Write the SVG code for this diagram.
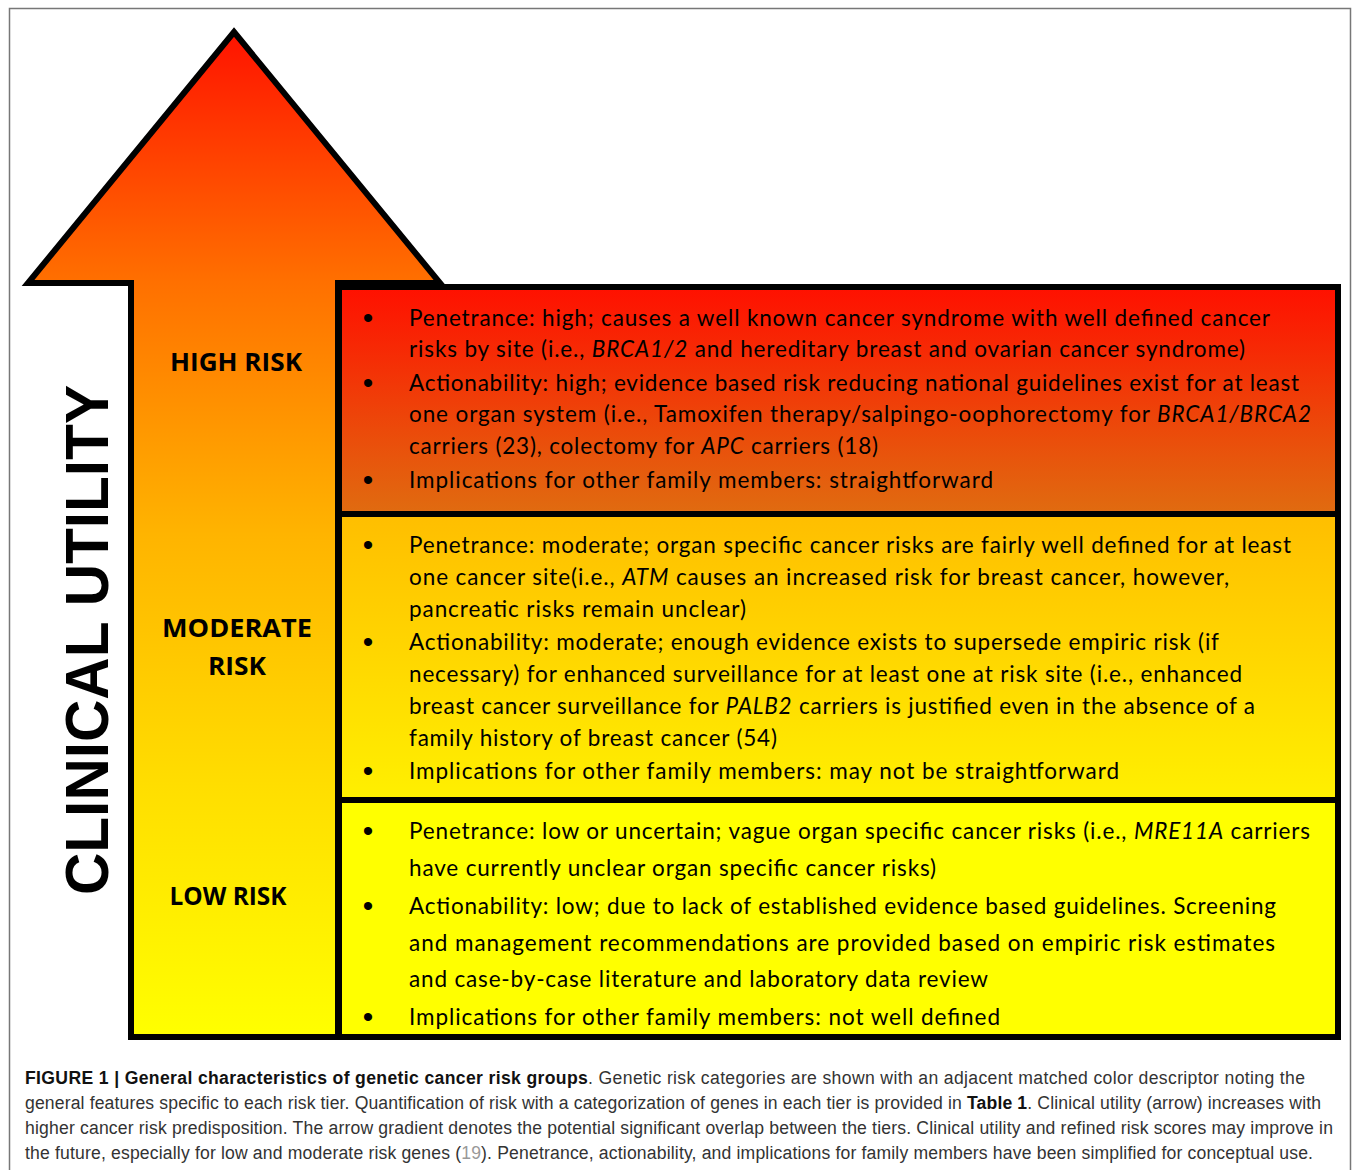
<svg xmlns="http://www.w3.org/2000/svg" width="1355" height="1170" viewBox="0 0 1355 1170">
<defs>
<linearGradient id="gArrow" gradientUnits="userSpaceOnUse" x1="0" y1="30" x2="0" y2="1038">
<stop offset="0" stop-color="#FF1200"/>
<stop offset="0.25" stop-color="#FF7000"/>
<stop offset="0.5" stop-color="#FFB400"/>
<stop offset="0.75" stop-color="#FFDE00"/>
<stop offset="1" stop-color="#FFFF00"/>
</linearGradient>
<linearGradient id="gHigh" x1="0" y1="0" x2="0" y2="1">
<stop offset="0" stop-color="#FF1000"/>
<stop offset="1" stop-color="#E06C10"/>
</linearGradient>
<linearGradient id="gMod" x1="0" y1="0" x2="0" y2="1">
<stop offset="0" stop-color="#FFBE00"/>
<stop offset="1" stop-color="#FFF000"/>
</linearGradient>
<style>
.box{stroke:#000;stroke-width:6;}
.t{font-family:Lato,"Open Sans","Liberation Sans",sans-serif;font-size:22.5px;fill:#000;}
.i{font-style:italic;}
.b{font-family:"Liberation Sans",Arial,sans-serif;font-size:30px;fill:#000;text-anchor:middle;}
.lab{font-family:"Open Sans",Lato,"Liberation Sans",sans-serif;font-weight:bold;font-size:25px;fill:#000;text-anchor:middle;}
.cap{font-family:"Liberation Sans",Arial,sans-serif;font-size:17.6px;fill:#333;}
.bold{font-weight:bold;fill:#111;}
</style>
</defs>
<rect x="9.5" y="8.5" width="1341" height="1175" fill="#fff" stroke="#777" stroke-width="1.5"/>
<g id="arrow">
<path d="M234,32 L440,283 L338,283 L338,1037 L131,1037 L131,283 L28,283 Z" fill="url(#gArrow)" stroke="#000" stroke-width="6" stroke-linejoin="miter"/>
<text transform="translate(108,640) rotate(-90)" text-anchor="middle" textLength="510" lengthAdjust="spacingAndGlyphs" style="font-family:'Liberation Sans',Arial,sans-serif;font-weight:bold;font-size:62px;fill:#000;">CLINICAL UTILITY</text>
</g>
<g id="label-high"><text class="lab" x="236" y="371" textLength="132" lengthAdjust="spacingAndGlyphs">HIGH RISK</text></g>
<g id="label-moderate"><text class="lab" x="237" y="637" textLength="150" lengthAdjust="spacingAndGlyphs">MODERATE</text><text class="lab" x="237" y="675" textLength="58" lengthAdjust="spacingAndGlyphs">RISK</text></g>
<g id="label-low"><text class="lab" x="228" y="905" textLength="117" lengthAdjust="spacingAndGlyphs">LOW RISK</text></g>
<g id="box-high">
<rect class="box" x="339" y="287" width="999" height="227" fill="url(#gHigh)"/>
<text class="b" x="368" y="328">•</text>
<text class="b" x="368" y="393">•</text>
<text class="b" x="368" y="490">•</text>
<text class="t" x="409" y="326" textLength="861">Penetrance: high; causes a well known cancer syndrome with well defined cancer</text>
<text class="t" x="409" y="357" textLength="836">risks by site (i.e., <tspan class="i">BRCA1/2</tspan> and hereditary breast and ovarian cancer syndrome)</text>
<text class="t" x="409" y="391" textLength="890">Actionability: high; evidence based risk reducing national guidelines exist for at least</text>
<text class="t" x="409" y="422" textLength="902">one organ system (i.e., Tamoxifen therapy/salpingo-oophorectomy for <tspan class="i">BRCA1/BRCA2</tspan></text>
<text class="t" x="409" y="454" textLength="469">carriers (23), colectomy for <tspan class="i">APC</tspan> carriers (18)</text>
<text class="t" x="409" y="488" textLength="584">Implications for other family members: straightforward</text>
</g>
<g id="box-moderate">
<rect class="box" x="339" y="514" width="999" height="286" fill="url(#gMod)"/>
<text class="b" x="368" y="555">•</text>
<text class="b" x="368" y="652">•</text>
<text class="b" x="368" y="781">•</text>
<text class="t" x="409" y="553" textLength="882">Penetrance: moderate; organ specific cancer risks are fairly well defined for at least</text>
<text class="t" x="409" y="585" textLength="820">one cancer site(i.e., <tspan class="i">ATM</tspan> causes an increased risk for breast cancer, however,</text>
<text class="t" x="409" y="617" textLength="337">pancreatic risks remain unclear)</text>
<text class="t" x="409" y="650" textLength="810">Actionability: moderate; enough evidence exists to supersede empiric risk (if</text>
<text class="t" x="409" y="682" textLength="833">necessary) for enhanced surveillance for at least one at risk site (i.e., enhanced</text>
<text class="t" x="409" y="714" textLength="846">breast cancer surveillance for <tspan class="i">PALB2</tspan> carriers is justified even in the absence of a</text>
<text class="t" x="409" y="746" textLength="368">family history of breast cancer (54)</text>
<text class="t" x="409" y="779" textLength="710">Implications for other family members: may not be straightforward</text>
</g>
<g id="box-low">
<rect class="box" x="339" y="800" width="999" height="237" fill="#FFFF00"/>
<text class="b" x="368" y="841">•</text>
<text class="b" x="368" y="916">•</text>
<text class="b" x="368" y="1027">•</text>
<text class="t" x="409" y="839" textLength="901">Penetrance: low or uncertain; vague organ specific cancer risks (i.e., <tspan class="i">MRE11A</tspan> carriers</text>
<text class="t" x="409" y="876" textLength="527">have currently unclear organ specific cancer risks)</text>
<text class="t" x="409" y="914" textLength="867">Actionability: low; due to lack of established evidence based guidelines. Screening</text>
<text class="t" x="409" y="951" textLength="866">and management recommendations are provided based on empiric risk estimates</text>
<text class="t" x="409" y="987" textLength="579">and case-by-case literature and laboratory data review</text>
<text class="t" x="409" y="1025" textLength="591">Implications for other family members: not well defined</text>
</g>
<g id="connectors"/>
<g id="caption">
<text class="cap" x="25" y="1084" textLength="1280"><tspan class="bold">FIGURE 1 | General characteristics of genetic cancer risk groups</tspan>. Genetic risk categories are shown with an adjacent matched color descriptor noting the</text>
<text class="cap" x="25" y="1109" textLength="1296">general features specific to each risk tier. Quantification of risk with a categorization of genes in each tier is provided in <tspan class="bold">Table 1</tspan>. Clinical utility (arrow) increases with</text>
<text class="cap" x="25" y="1134" textLength="1308">higher cancer risk predisposition. The arrow gradient denotes the potential significant overlap between the tiers. Clinical utility and refined risk scores may improve in</text>
<text class="cap" x="25" y="1159" textLength="1288">the future, especially for low and moderate risk genes (<tspan fill="#999">19</tspan>). Penetrance, actionability, and implications for family members have been simplified for conceptual use.</text>
</g>
</svg>
